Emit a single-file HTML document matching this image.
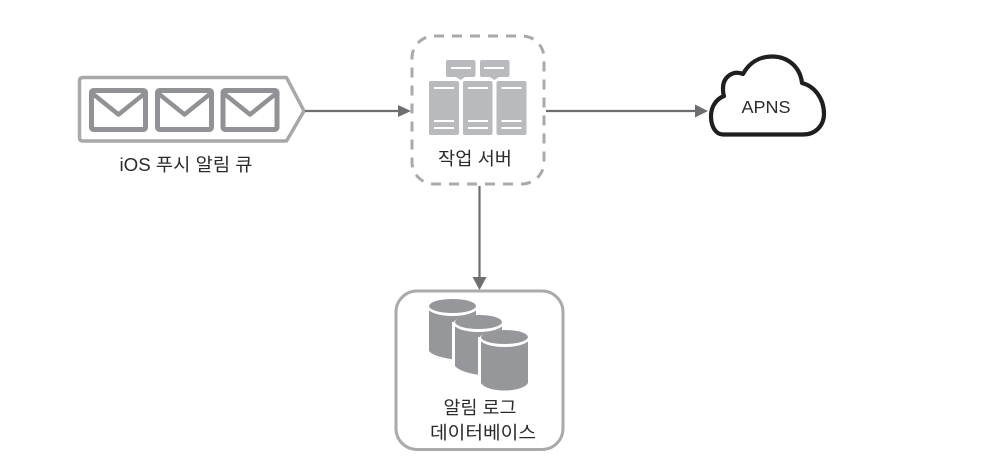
<!DOCTYPE html>
<html>
<head>
<meta charset="utf-8">
<style>
html,body{margin:0;padding:0;background:#fff;width:998px;height:476px;overflow:hidden}
svg{display:block}
text{font-family:"Liberation Sans","Noto Sans CJK KR",sans-serif;fill:#2b2b2d;text-anchor:middle}
</style>
</head>
<body>
<svg width="998" height="476" viewBox="0 0 998 476" xmlns="http://www.w3.org/2000/svg">
<!-- queue -->
<path d="M83 77.500H286.500L304 111L286.500 141H83Q79.500 141 79.500 137.500V81Q79.500 77.500 83 77.500Z" fill="#fff" stroke="#a7a8aa" stroke-width="3.500" stroke-linejoin="round"/>
<g fill="#fff" stroke="#919295" stroke-width="5" stroke-linejoin="round">
<rect x="91.500" y="90.500" width="54" height="39" rx="2"/>
<rect x="157.500" y="90.500" width="54" height="39" rx="2"/>
<rect x="223" y="90.500" width="54" height="39" rx="2"/>
<path d="M93 94L118.500 114.500L144 94M159 94L184.500 114.500L210 94M224.500 94L250 114.500L275.500 94" fill="none" stroke-width="4.500"/>
</g>
<text x="186" y="171" font-size="18" textLength="133" lengthAdjust="spacingAndGlyphs">iOS 푸시 알림 큐</text>

<!-- arrows -->
<g stroke="#6d6e71" stroke-width="2.200" fill="none">
<path d="M305 111H399"/>
<path d="M546 111H696"/>
<path d="M479.500 186V278"/>
</g>
<g fill="#6d6e71">
<path d="M398 105L411 111L398 117Z"/>
<path d="M695 104.500L708 111L695 117.500Z"/>
<path d="M472.500 277H486.500L479.500 290Z"/>
</g>

<!-- worker box -->
<rect x="412" y="36" width="132" height="148" rx="22" fill="none" stroke="#a9aaac" stroke-width="3" stroke-dasharray="10 8"/>
<g fill="#b9babd">
<rect x="446" y="60" width="29.500" height="17" rx="2"/>
<rect x="480" y="60" width="29.500" height="17" rx="2"/>
<path d="M456 77H465L460.500 80ZM490 77H499L494.500 80Z"/>
<rect x="429" y="81" width="30" height="54" rx="2"/>
<rect x="463" y="81" width="29.500" height="54" rx="2"/>
<rect x="496.500" y="81" width="30" height="54" rx="2"/>
</g>
<g stroke="#fff" stroke-width="2" fill="none">
<path d="M451 68H471M484 68H504"/>
<path d="M434 88H454M468 88H488M501.500 88H521.500"/>
<path d="M434 121H454M468 121H488M501.500 121H521.500"/>
<path d="M434 128H454M468 128H488M501.500 128H521.500"/>
</g>
<text x="475" y="165" font-size="18" textLength="74" lengthAdjust="spacingAndGlyphs">작업 서버</text>

<!-- cloud -->
<path d="M723 134.500H803C816 134.500 824 125 824 114C824 98 814 86 802 83C800 66 787 56.500 772 56.500C759 56.500 749 63 743 74C733 70 723 77 723 88C723 91 723 94 724 96C716 99 711 107 711 116C711 127 716 134.500 723 134.500Z" fill="#fff" stroke="#1f1f21" stroke-width="4.200" stroke-linejoin="round"/>
<text x="766" y="113" font-size="17.500" textLength="49" lengthAdjust="spacingAndGlyphs">APNS</text>

<!-- db box -->
<rect x="396" y="291" width="167" height="158.500" rx="21" fill="#fff" stroke="#a9aaac" stroke-width="3"/>
<!-- cylinder 1 -->
<path d="M429 306V351C434 357 450 360 476 361V306Z" fill="#96979a"/>
<ellipse cx="452.500" cy="307.500" rx="25" ry="8.500" fill="#fff"/>
<ellipse cx="452.500" cy="306" rx="23.500" ry="7" fill="#96979a"/>
<!-- cylinder 2 -->
<path d="M452 322H505V380H452Z" fill="#fff"/>
<path d="M455 322V366C460 372 476 376 502 377V322Z" fill="#96979a"/>
<ellipse cx="478.500" cy="323.500" rx="25" ry="8.500" fill="#fff"/>
<ellipse cx="478.500" cy="322" rx="23.500" ry="7" fill="#96979a"/>
<!-- cylinder 3 -->
<path d="M478 337H531V395H478Z" fill="#fff"/>
<path d="M481 337V383C487 393 522 393 528 383V337Z" fill="#96979a"/>
<ellipse cx="504.500" cy="338.500" rx="25" ry="8.500" fill="#fff"/>
<ellipse cx="504.500" cy="337" rx="23.500" ry="7" fill="#96979a"/>
<text x="480" y="414" font-size="18" textLength="73" lengthAdjust="spacingAndGlyphs">알림 로그</text>
<text x="483" y="439" font-size="18" textLength="106" lengthAdjust="spacingAndGlyphs">데이터베이스</text>
</svg>
</body>
</html>
